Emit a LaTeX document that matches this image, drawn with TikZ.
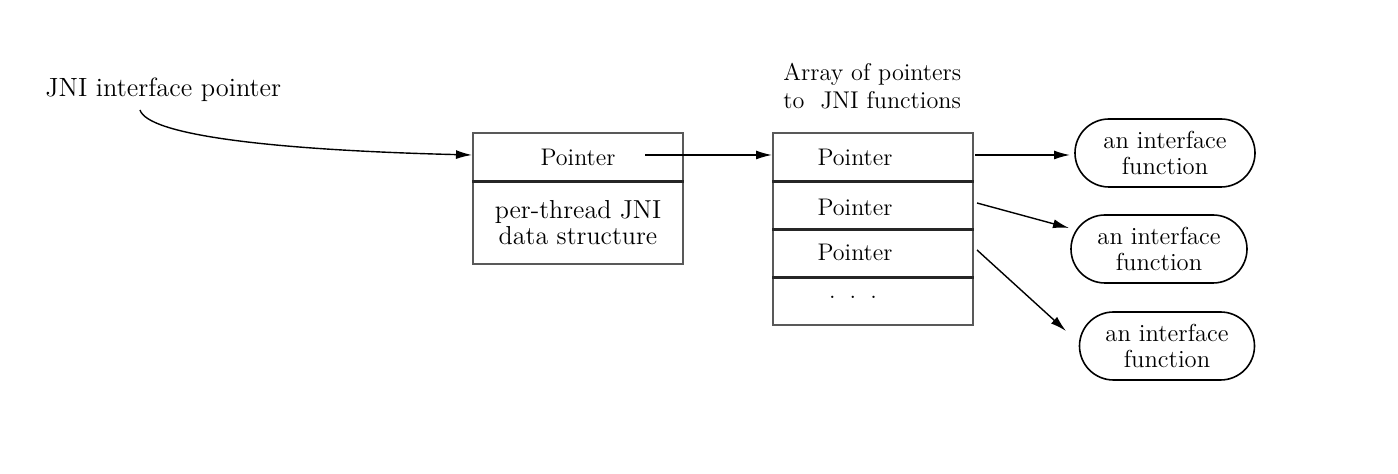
\documentclass[tikz,border=0pt]{standalone}
\usetikzlibrary{arrows.meta,shapes.misc}
\begin{document}
\begin{tikzpicture}[x=0.5pt,y=-0.5pt,
  txt/.style={font=\fontsize{12}{14}\selectfont, inner sep=0pt},
  cell/.style={draw=black!65, line width=1pt, inner sep=0pt, minimum width=#1, font=\fontsize{12}{14}\selectfont, align=center},
  cellA/.style={cell=105pt},
  cellB/.style={cell=100pt},
  fun/.style={draw=black, line width=0.8pt, rounded rectangle, inner sep=0pt, minimum height=34pt, font=\fontsize{12.3}{13}\selectfont, align=center},
  divider/.style={line width=1.5pt, black!85},
  arr/.style={line width=0.7pt, -{Latex[length=8pt,width=4.5pt]}}
]
\useasboundingbox (0,0) rectangle (1398,474);

% JNI interface pointer
\node[txt, font=\fontsize{13.2}{15}\selectfont, anchor=west] (jni) at (45,90) {JNI interface pointer};
\coordinate (cstart) at (140,110);

% Box 1
\node[cellA, minimum height=24pt] (b1top) at (578,157) {Pointer};
\node[cellA, minimum height=41.5pt, font=\fontsize{13}{14}\selectfont] (b1bot) at (578,222.5) {per-thread JNI\\[-1pt]data structure};
\draw[divider] (b1top.south west) -- (b1top.south east);

% Box 2
\node[txt, font=\fontsize{12.1}{14}\selectfont, anchor=north west, align=left] (title) at (783,63) {Array of pointers\\to\ \ JNI functions};
\node[cellB, minimum height=24pt] (r1) at (873,157) {};
\node[cellB, minimum height=24pt] (r2) at (873,205) {};
\node[cellB, minimum height=24pt] (r3) at (873,253) {};
\node[cellB, minimum height=24pt] (r4) at (873,301) {};
\node[txt] (t1) at (855,157) {Pointer};
\node[txt] (t2) at (855,207) {Pointer};
\node[txt] (t3) at (855,252) {Pointer};
\node[txt] (t4) at (853,297) {.\hspace{7pt}.\hspace{7pt}.};
\draw[divider] (r1.south west) -- (r1.south east);
\draw[divider] (r2.south west) -- (r2.south east);
\draw[divider] (r3.south west) -- (r3.south east);

% interface functions
\node[fun, minimum width=90pt] (e1) at (1165,153) {an interface\\function};
\node[fun, minimum width=88pt] (e2) at (1159,249) {an interface\\function};
\node[fun, minimum width=87.5pt] (e3) at (1167,346) {an interface\\function};

% connectors
\coordinate (p0) at (645,155);
\coordinate (p1) at (975,155);
\coordinate (p2) at (977,203);
\coordinate (p3) at (977,250);
\coordinate (q1) at (1070,155);
\coordinate (q2) at (1069,228);
\coordinate (q3) at (1066,331);

\draw[arr] (cstart) .. controls (148,135) and (270,150) .. ([yshift=1pt]b1top.west);
\draw[arr] (p0) -- (r1.west |- p0);
\draw[arr] (p1) -- (q1);
\draw[arr] (p2) -- (q2);
\draw[arr] (p3) -- (q3);
\end{tikzpicture}
\end{document}
